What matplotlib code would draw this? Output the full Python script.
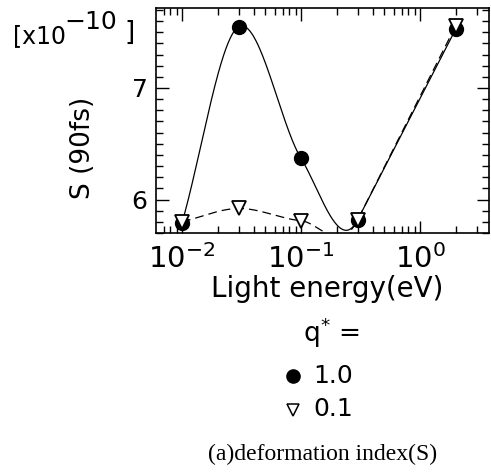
import numpy as np
import matplotlib
matplotlib.use("Agg")
import matplotlib.pyplot as plt
from matplotlib.lines import Line2D
from matplotlib.ticker import LogLocator, MultipleLocator, NullFormatter

plt.rcParams['font.family'] = ['DejaVu Sans']
plt.rcParams['mathtext.fontset'] = 'dejavusans'
plt.rcParams['mathtext.default'] = 'regular'

# light energy (eV) and S at 90 fs, in units of 1e-10
energy = [0.01, 0.03, 0.1, 0.3, 2.0]
s_q10 = [5.79, 7.55, 6.37, 5.82, 7.53]
s_q01 = [5.80, 5.92, 5.81, 5.82, 7.56]


def smooth_curve(x, y, xs):
    """cubic Hermite curve through the points; slopes from the neighbouring
    points, with the last leg drawn straight"""
    x = np.asarray(x, float)
    y = np.asarray(y, float)
    n = len(x)
    h = np.diff(x)
    sec = np.diff(y) / h
    m = np.empty(n)
    m[0] = sec[0]
    m[1:-1] = (y[2:] - y[:-2]) / (x[2:] - x[:-2])
    m[-2] = m[-1] = sec[-1]
    k = np.clip(np.searchsorted(x, xs) - 1, 0, n - 2)
    t = (xs - x[k]) / h[k]
    h00 = 2 * t ** 3 - 3 * t ** 2 + 1
    h10 = t ** 3 - 2 * t ** 2 + t
    h01 = -2 * t ** 3 + 3 * t ** 2
    h11 = t ** 3 - t ** 2
    return h00 * y[k] + h10 * h[k] * m[k] + h01 * y[k + 1] + h11 * h[k] * m[k + 1]


W, H = 491, 476
fig = plt.figure(figsize=(W / 100, H / 100), dpi=100)
ax = fig.add_axes([156 / W, 1 - 233 / H, (489 - 156) / W, (233 - 8) / H])

lx = np.log10(energy)
xs = np.linspace(lx[0], lx[-1], 500)
ax.plot(10 ** xs, smooth_curve(lx, s_q10, xs), color='black', lw=0.9)
ax.plot(10 ** xs, smooth_curve(lx, s_q01, xs), color='black', lw=0.9,
        dashes=(7, 4))
ax.plot(energy, s_q10, 'o', color='black', ms=10)
ax.plot(energy, s_q01, 'v', mfc='white', mec='black', mew=1.3, ms=10)

ax.set_xscale('log')
ax.set_xlim(0.00605, 3.8)
ax.set_ylim(5.70, 7.717)

ax.xaxis.set_major_locator(LogLocator(base=10, numticks=10))
ax.xaxis.set_minor_locator(LogLocator(base=10, subs=np.arange(2, 10), numticks=10))
ax.xaxis.set_minor_formatter(NullFormatter())
ax.yaxis.set_major_locator(MultipleLocator(1))
ax.yaxis.set_minor_locator(MultipleLocator(0.1))

ax.tick_params(which='both', direction='in', top=True, right=True, width=1)
ax.tick_params(which='major', length=9)
ax.tick_params(which='minor', length=5)
ax.tick_params(axis='x', which='major', labelsize=21, pad=8)
ax.tick_params(axis='y', which='major', labelsize=18, pad=6)
for sp in ax.spines.values():
    sp.set_linewidth(1.2)


def ftext(x, y, s, **kw):
    fig.text(x / W, 1 - y / H, s, **kw)


ftext(327, 289, 'Light energy(eV)', fontsize=20, ha='center', va='center')
ftext(83, 148, 'S (90fs)', fontsize=19, ha='center', va='center', rotation=90)

# exponent label above the y axis
ftext(13, 36, '[x10', fontsize=17, ha='left', va='center')
ftext(64, 22, '\u221210', fontsize=18, ha='left', va='center')
ftext(124, 33, ']', fontsize=19, ha='left', va='center')

# legend
ftext(331, 333, 'q$^{*}$ =', fontsize=19, ha='center', va='center')
ftext(313, 376, '1.0', fontsize=18, ha='left', va='center')
ftext(313, 409, '0.1', fontsize=18, ha='left', va='center')
fig.add_artist(Line2D([293 / W], [1 - 376 / H], marker='o', color='black', ms=9.5,
                      transform=fig.transFigure))
fig.add_artist(Line2D([293 / W], [1 - 410 / H], marker='v', mfc='white', mec='black',
                      mew=1.1, ms=9, transform=fig.transFigure))

ftext(323, 454, '(a)deformation index(S)', fontsize=17, ha='center', va='center',
      family='Liberation Serif')

fig.savefig('out.png', dpi=100)
